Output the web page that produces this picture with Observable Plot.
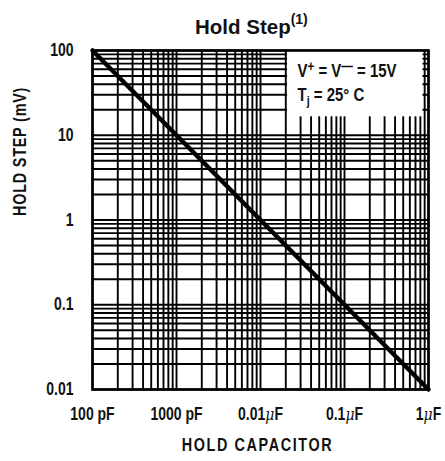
<!DOCTYPE html>
<html>
<head>
<meta charset="utf-8">
<script src="https://cdn.jsdelivr.net/npm/d3@7"></script>
<script src="https://cdn.jsdelivr.net/npm/@observablehq/plot@0.6"></script>
<style>
  html, body { margin: 0; padding: 0; background: #fff; }
  #wrap { position: relative; width: 445px; height: 461px; }
  #title { position: absolute; left: 195px; top: 13px; z-index: 2; font: bold 20.5px "Liberation Sans", Arial, sans-serif; color: #111; white-space: nowrap; line-height: 1.2; }
  #title sup { font-size: 14px; position: relative; top: -2px; }
</style>
</head>
<body>
<div id="wrap"><div id="title">Hold Step<sup>(1)</sup></div></div>
<script>
// Data
const capacitance_pF = [100, 1000, 10000, 100000, 1000000];
const holdStep_mV = [100, 10, 1, 0.1, 0.01];

// Tick values and labels
const xTickValues = [100, 1000, 10000, 100000, 1000000];
const xTickLabels = ["100 pF", "1000 pF", "0.01µF", "0.1µF", "1µF"];
const yTickValues = [0.01, 0.1, 1, 10, 100];
const yTickLabels = ["0.01", "0.1", "1", "10", "100"];

// Log grid (1..9 per decade)
const gridMultipliers = [1, 2, 3, 4, 5, 6, 7, 8, 9];
const xGrid = xTickValues.slice(0, -1).flatMap(d => gridMultipliers.map(k => d * k)).concat([xTickValues[xTickValues.length - 1]]);
const yGrid = yTickValues.slice(0, -1).flatMap(d => gridMultipliers.map(k => +(d * k).toPrecision(3))).concat([yTickValues[yTickValues.length - 1]]);

// Legend annotation box (data coordinates)
const legendBox = [{x1: 21000, x2: 860000, y1: 16.5, y2: 100}];
const legendLines = [
  {x: 27600, y: 57, key: "L1"},
  {x: 27600, y: 30, key: "L2"}
];

const FONT = "'Liberation Sans', Arial, sans-serif";
const data = capacitance_pF.map((c, i) => ({c, v: holdStep_mV[i]}));

const chart = Plot.plot({
  width: 445,
  height: 461,
  marginLeft: 92,
  marginRight: 17,
  marginTop: 50,
  marginBottom: 72,
  style: {fontFamily: FONT, fontWeight: "bold", color: "#111", background: "transparent", overflow: "visible"},
  x: {type: "log", domain: [100, 1000000]},
  y: {type: "log", domain: [0.01, 100]},
  marks: [
    Plot.ruleX(xGrid, {stroke: "#000", strokeWidth: 1.9}),
    Plot.ruleY(yGrid, {stroke: "#000", strokeWidth: 1.9}),
    Plot.rect(legendBox, {x1: "x1", x2: "x2", y1: "y1", y2: "y2", fill: "#fff"}),
    Plot.frame({stroke: "#000", strokeWidth: 2.6}),
    Plot.line(data, {x: "c", y: "v", stroke: "#000", strokeWidth: 4.5}),
    Plot.axisX({ticks: xTickValues, tickFormat: (d) => xTickLabels[xTickValues.indexOf(d)], tickSize: 0, tickPadding: 18, fontSize: 17.5, fontWeight: "bold", label: null}),
    Plot.axisY({ticks: yTickValues, tickFormat: (d) => yTickLabels[yTickValues.indexOf(d)], tickSize: 0, tickPadding: 19, fontSize: 17.5, fontWeight: "bold", label: null}),
    Plot.text(legendLines, {x: "x", y: "y", text: "key", textAnchor: "start", fontSize: 18, fontWeight: "bold", fill: "#111"}),
    Plot.text(["HOLD CAPACITOR"], {frameAnchor: "bottom", dy: 61, dx: -3, fontSize: 18, fontWeight: "bold", fill: "#111"}),
    Plot.text(["HOLD STEP (mV)"], {frameAnchor: "left", dx: -72, dy: -4, rotate: -90, fontSize: 18, fontWeight: "bold", fill: "#111"})
  ]
});

// Condensed look: squeeze text horizontally around its anchor
function condense(t, s) {
  const tr = t.getAttribute("transform");
  if (tr) {
    t.setAttribute("transform", tr + ` scale(${s},1)`);
  } else {
    const x = +(t.getAttribute("x") || 0);
    t.setAttribute("transform", `translate(${x},0) scale(${s},1) translate(${-x},0)`);
  }
}

// Rich text post-processing
chart.querySelectorAll("text").forEach(t => {
  const s = t.textContent;
  let k = 0.8;
  if (s === "L1") {
    t.innerHTML = 'V<tspan dy="-6" font-size="14">+</tspan><tspan dy="6"> = V</tspan><tspan dy="-6" font-size="14">\u2014</tspan><tspan dy="6"> = 15V</tspan>';
    k = 0.83;
  } else if (s === "L2") {
    t.innerHTML = 'T<tspan dy="4" font-size="13">j</tspan><tspan dy="-4"> = 25\u00B0 C</tspan>';
    k = 0.83;
  } else if (s === "HOLD CAPACITOR") {
    t.setAttribute("letter-spacing", "2");
  } else if (s === "HOLD STEP (mV)") {
    t.setAttribute("letter-spacing", "1");
  } else if (s.includes("µ")) {
    const [a, b] = s.split("µ");
    t.innerHTML = a + '<tspan font-style="italic" font-weight="normal" font-family="DejaVu Serif, serif">\u03BC</tspan>' + b;
  }
  condense(t, k);
});

const wrap = document.getElementById("wrap");
chart.style.position = "absolute";
chart.style.left = "0";
chart.style.top = "0";
wrap.insertBefore(chart, wrap.firstChild);
</script>
</body>
</html>
